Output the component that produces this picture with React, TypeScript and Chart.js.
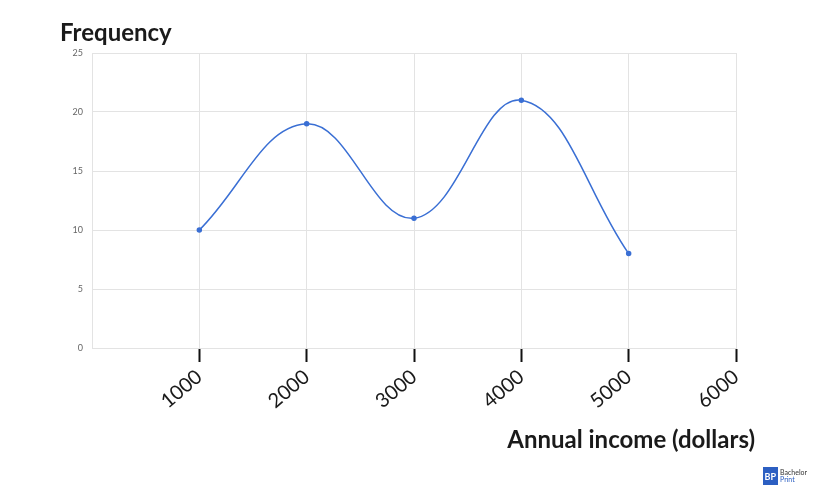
import React, { useEffect, useRef } from "react";
import { Chart, registerables } from "chart.js";

Chart.register(...registerables);

const incomes = [1000, 2000, 3000, 4000, 5000];
const frequencies = [10, 19, 11, 21, 8];
const yTitle = "Frequency";
const xTitle = "Annual income (dollars)";
const logoTop = "Bachelor";
const logoBottom = "Print";

const titlesPlugin = {
  id: "titles",
  afterDraw(chart: any) {
    const { ctx, chartArea } = chart;
    ctx.save();
    ctx.fillStyle = "#1a1a1a";
    ctx.font = "bold 24px Lato";
    ctx.textBaseline = "alphabetic";
    ctx.textAlign = "left";
    ctx.fillText(yTitle, chartArea.left - 32, chartArea.top - 12);
    ctx.textAlign = "right";
    ctx.fillText(xTitle, chartArea.right + 19, chartArea.bottom + 100);
    // logo
    const lx = chartArea.right + 27;
    const ly = chartArea.bottom + 119;
    ctx.fillStyle = "#2c5fc2";
    ctx.fillRect(lx, ly, 15, 18);
    ctx.fillStyle = "#ffffff";
    ctx.font = "bold 9px Lato";
    ctx.textAlign = "left";
    ctx.fillText("BP", lx + 1.5, ly + 13);
    ctx.fillStyle = "#333";
    ctx.font = "7px Lato";
    ctx.fillText(logoTop, lx + 17, ly + 8);
    ctx.fillStyle = "#2c5fc2";
    ctx.fillText(logoBottom, lx + 17, ly + 15);
    ctx.restore();
  },
};

export default function App() {
  const ref = useRef<HTMLCanvasElement>(null);
  useEffect(() => {
    if (!ref.current) return;
    const chart = new Chart(ref.current, {
      type: "line",
      data: {
        datasets: [
          {
            data: incomes.map((x, i) => ({ x, y: frequencies[i] })),
            borderColor: "#3a6fd4",
            backgroundColor: "#3a6fd4",
            borderWidth: 1.5,
            pointRadius: 2,
            pointHoverRadius: 2,
            tension: 0.4,
            fill: false,
          },
        ],
      },
      options: {
        animation: false,
        responsive: false,
        maintainAspectRatio: false,
        events: [],
        layout: { padding: { left: 0, top: 53, right: 89, bottom: 0 } },
        plugins: { legend: { display: false }, tooltip: { enabled: false } },
        scales: {
          x: {
            type: "linear",
            min: 0,
            max: 6000,
            afterFit(scale: any) {
              scale.height = 152;
            },
            ticks: {
              stepSize: 1000,
              minRotation: 40,
              maxRotation: 40,
              padding: 3,
              color: "#1a1a1a",
              font: { family: "Lato", size: 20 },
              callback: (v: any) => (v === 0 ? "" : String(v)),
            },
            grid: {
              color: "#e3e3e3",
              lineWidth: 1,
              drawTicks: true,
              tickLength: 14,
              tickWidth: 2,
              tickColor: (c: any) => (c.tick && c.tick.value === 0 ? "rgba(0,0,0,0)" : "#111"),
            },
            border: { display: true, color: "#e3e3e3" },
          },
          y: {
            min: 0,
            max: 25,
            afterFit(scale: any) {
              scale.width = 92;
            },
            ticks: {
              stepSize: 5,
              padding: 9,
              color: "#666",
              font: { family: "Lato", size: 9 },
            },
            grid: { color: "#e3e3e3", lineWidth: 1, drawTicks: false },
            border: { display: true, color: "#e3e3e3" },
          },
        },
      },
      plugins: [titlesPlugin],
    });
    return () => chart.destroy();
  }, []);
  return (
    <div style={{ position: "fixed", left: 0, top: 0, width: 825, height: 500, background: "#fff" }}>
      <canvas ref={ref} width={825} height={500} style={{ width: 825, height: 500 }} />
    </div>
  );
}
